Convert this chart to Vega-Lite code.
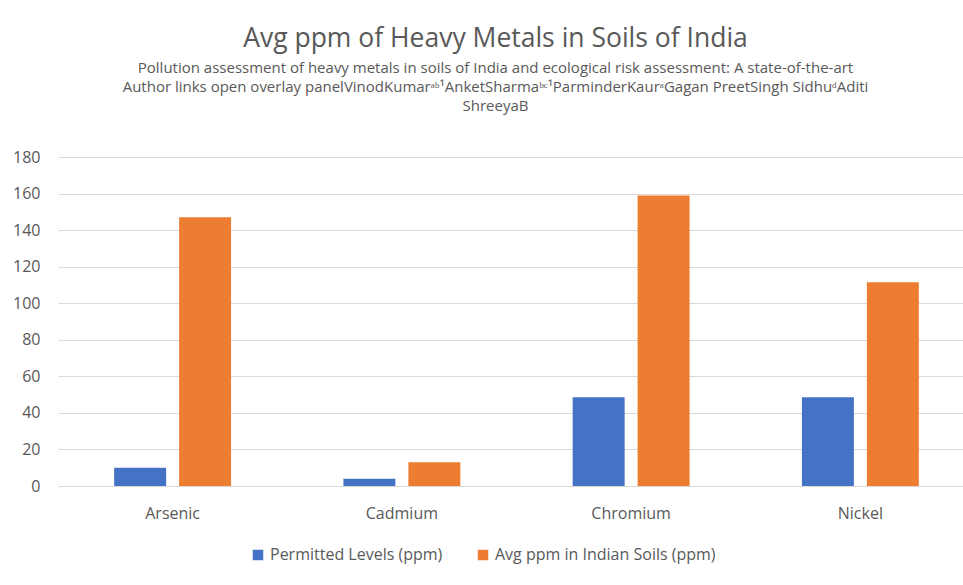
{
  "$schema": "https://vega.github.io/schema/vega-lite/v6.json",
  "autosize": "none",
  "padding": {"left": 58, "top": 157, "right": 0, "bottom": 99},
  "width": 917,
  "height": 329,
  "background": "white",
  "config": {
    "font": "Open Sans",
    "view": {"stroke": null}
  },
  "title": {
    "text": "Avg ppm of Heavy Metals in Soils of India",
    "subtitle": [
      "Pollution assessment of heavy metals in soils of India and ecological risk assessment: A state-of-the-art",
      "Author links open overlay panelVinodKumarᵃᵇ¹AnketSharmaᵇᶜ¹ParminderKaurᵃGagan PreetSingh SidhuᵈAditi",
      "ShreeyaB"
    ],
    "anchor": "middle",
    "dx": -21,
    "fontSize": 26.5,
    "fontWeight": "normal",
    "color": "#595959",
    "subtitleFontSize": 15,
    "subtitleColor": "#595959",
    "subtitleLineHeight": 19,
    "subtitlePadding": 9,
    "offset": 35
  },
  "data": {
    "values": [
      {"metal": "Arsenic", "series": "Permitted Levels (ppm)", "ppm": 10},
      {"metal": "Arsenic", "series": "Avg ppm in Indian Soils (ppm)", "ppm": 147},
      {"metal": "Cadmium", "series": "Permitted Levels (ppm)", "ppm": 4},
      {"metal": "Cadmium", "series": "Avg ppm in Indian Soils (ppm)", "ppm": 13},
      {"metal": "Chromium", "series": "Permitted Levels (ppm)", "ppm": 48.5},
      {"metal": "Chromium", "series": "Avg ppm in Indian Soils (ppm)", "ppm": 159},
      {"metal": "Nickel", "series": "Permitted Levels (ppm)", "ppm": 48.5},
      {"metal": "Nickel", "series": "Avg ppm in Indian Soils (ppm)", "ppm": 111.5}
    ]
  },
  "mark": {"type": "bar"},
  "encoding": {
    "x": {
      "field": "metal",
      "type": "nominal",
      "sort": ["Arsenic", "Cadmium", "Chromium", "Nickel"],
      "scale": {"paddingInner": 0.49, "paddingOuter": 0.245},
      "axis": {
        "title": null,
        "labelAngle": 0,
        "domain": false,
        "ticks": false,
        "labelFontSize": 16,
        "labelColor": "#595959",
        "labelPadding": 19
      }
    },
    "xOffset": {
      "field": "series",
      "type": "nominal",
      "sort": ["Permitted Levels (ppm)", "Avg ppm in Indian Soils (ppm)"],
      "scale": {"paddingInner": 0.2, "paddingOuter": 0}
    },
    "y": {
      "field": "ppm",
      "type": "quantitative",
      "scale": {"domain": [0, 180], "nice": false},
      "axis": {
        "title": null,
        "values": [0, 20, 40, 60, 80, 100, 120, 140, 160, 180],
        "domain": false,
        "ticks": false,
        "labelFontSize": 16,
        "labelColor": "#595959",
        "labelPadding": 18,
        "gridColor": "#D9D9D9",
        "gridWidth": 1.2
      }
    },
    "color": {
      "field": "series",
      "type": "nominal",
      "sort": ["Permitted Levels (ppm)", "Avg ppm in Indian Soils (ppm)"],
      "scale": {
        "domain": ["Permitted Levels (ppm)", "Avg ppm in Indian Soils (ppm)"],
        "range": ["#4472C4", "#ED7D31"]
      },
      "legend": {
        "title": null,
        "orient": "none",
        "direction": "horizontal",
        "legendX": 192,
        "legendY": 390,
        "symbolType": "square",
        "symbolSize": 110,
        "symbolStrokeWidth": 0,
        "labelFontSize": 16,
        "labelColor": "#595959",
        "labelLimit": 0,
        "columnPadding": 32,
        "labelOffset": 4
      }
    }
  }
}
